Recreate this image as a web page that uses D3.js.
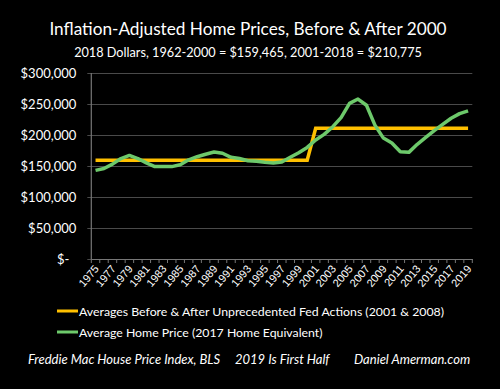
<!DOCTYPE html>
<html><head><meta charset="utf-8">
<script src="https://cdn.jsdelivr.net/npm/d3@7"></script>
<style>
html,body{margin:0;padding:0;background:#000;}
svg{display:block;font-family:Lato, "Open Sans", sans-serif;}
</style></head>
<body>
<svg id="c" width="500" height="389"></svg>
<script>
const years = d3.range(1975, 2020);
const homePrice = [143000,146000,153000,162000,167000,162000,155000,149000,149000,149000,152000,160000,165000,169000,172500,170500,164000,162000,158500,157500,156000,155000,156500,164000,171500,180000,192000,201000,213000,228000,251000,258000,248000,216000,195000,187000,173000,172000,185000,196000,207000,217000,227000,234500,239000];
const averages = years.map(y => y <= 2000 ? 159465 : 210775);
const yTicks = [0,50000,100000,150000,200000,250000,300000];
const xTickLabels = years.filter(y => (y - 1975) % 2 === 0);
const title = "Inflation-Adjusted Home Prices, Before & After 2000";
const subtitle = "2018 Dollars, 1962-2000 = $159,465, 2001-2018 = $210,775";
const legendLabels = ["Averages Before & After Unprecedented Fed Actions (2001 & 2008)", "Average Home Price (2017 Home Equivalent)"];
const footers = ["Freddie Mac House Price Index, BLS", "2019 Is First Half", "Daniel Amerman.com"];
const colors = {avg:"#FFC000", home:"#6DC96B"};

const svg = d3.select("#c");
const m = {left:91.3, right:472.3, top:73, bottom:259};

const xBand = d3.scaleBand().domain(years).range([m.left, m.right]);
const x = d => xBand(d) + xBand.bandwidth()/2;
const y = d3.scaleLinear().domain([0,300000]).range([m.bottom, m.top]);

// title
svg.append("text").attr("x",248).attr("y",35).attr("text-anchor","middle")
  .attr("fill","#fff").attr("font-size",17.2).text(title);
svg.append("text").attr("x",248).attr("y",56.5).attr("text-anchor","middle")
  .attr("fill","#fff").attr("font-size",12.7).text(subtitle);

// grid
const yAxis = d3.axisLeft(y).tickValues(yTicks).tickSize(-(m.right - m.left)).tickSizeOuter(0)
  .tickFormat(d => d === 0 ? "$-" : d3.format("$,")(d));
const gy = svg.append("g").attr("transform",`translate(${m.left},0)`).call(yAxis);
gy.select(".domain").remove();
gy.selectAll(".tick line").attr("stroke","#4a4a4a").attr("stroke-width",1.2).attr("x1",-4);
gy.selectAll(".tick text").attr("fill","#fff").attr("font-size",13).attr("x",-15)
  .attr("font-family","Lato, sans-serif");
gy.selectAll(".tick text").filter(d => d === 0).attr("x",-22);

// y axis line
svg.append("line").attr("x1",m.left).attr("x2",m.left).attr("y1",m.top).attr("y2",m.bottom)
  .attr("stroke","#777").attr("stroke-width",1.2);

// x axis
const xAxis = d3.axisBottom(xBand).tickValues([]).tickSizeOuter(0);
const gx = svg.append("g").attr("transform",`translate(0,${m.bottom})`).call(xAxis);
gx.select(".domain").attr("stroke","#777").attr("stroke-width",1.2);
const bounds = years.map(d => xBand(d)).concat([m.right]);
gx.selectAll("line.tk").data(bounds).enter().append("line").attr("class","tk")
  .attr("x1",d=>d).attr("x2",d=>d).attr("y1",0).attr("y2",4).attr("stroke","#777");
gx.selectAll("text.lbl").data(xTickLabels).enter().append("text").attr("class","lbl")
  .attr("transform",d=>`translate(${x(d)+4},${10}) rotate(-50)`)
  .attr("text-anchor","end").attr("fill","#fff").attr("font-size",11).text(d=>d);

// lines
const line = d3.line().x((d,i)=>x(years[i])).y(d=>y(d));
svg.append("path").datum(averages).attr("d",line).attr("fill","none")
  .attr("stroke",colors.avg).attr("stroke-width",3.5);
svg.append("path").datum(homePrice).attr("d",line).attr("fill","none")
  .attr("stroke",colors.home).attr("stroke-width",3.5).attr("stroke-linejoin","round");

// legend
const lg = svg.append("g");
[[colors.avg,311],[colors.home,332]].forEach((c,i)=>{
  lg.append("line").attr("x1",57).attr("x2",78).attr("y1",c[1]).attr("y2",c[1])
    .attr("stroke",c[0]).attr("stroke-width",3);
  lg.append("text").attr("x",79).attr("y",c[1]+4.5).attr("fill","#fff").attr("font-size",12.3)
    .text(legendLabels[i]);
});

// footers
const fx = [28,235,354];
footers.forEach((t,i)=>{
  svg.append("text").attr("x",fx[i]).attr("y",364).attr("fill","#fff").attr("font-size",13)
    .attr("font-style","italic").text(t);
});
</script>
</body></html>
